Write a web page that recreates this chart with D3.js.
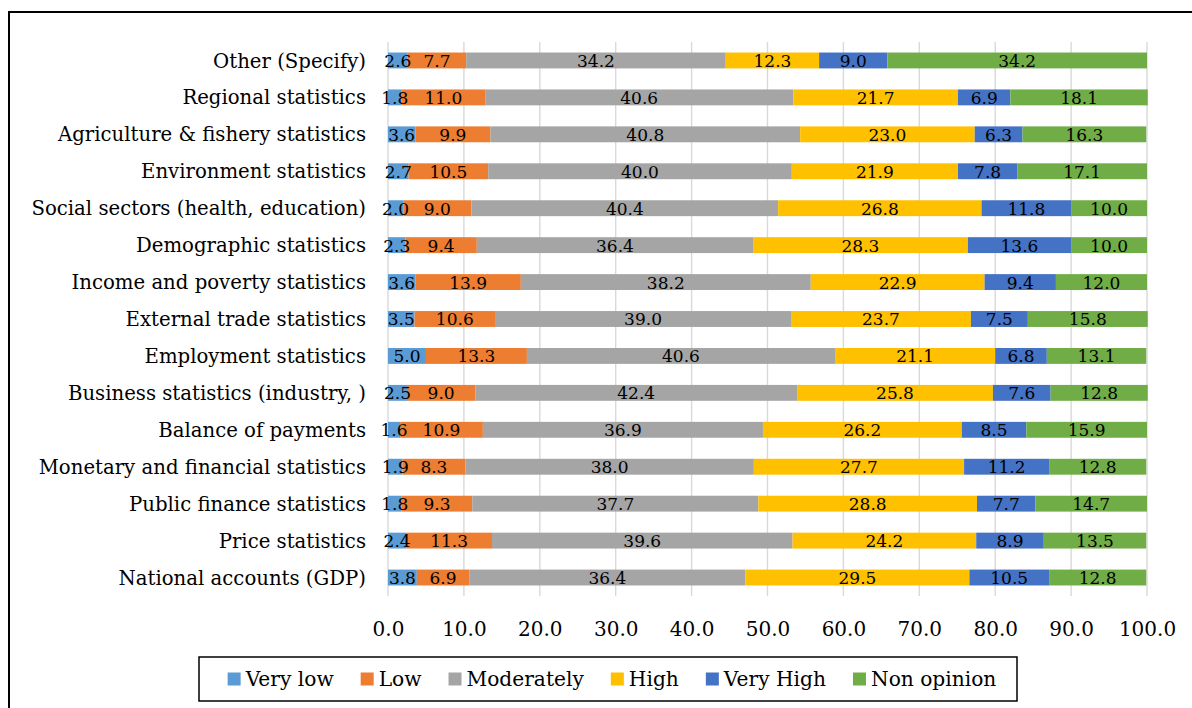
<!DOCTYPE html>
<html>
<head>
<meta charset="utf-8">
<script src="https://cdn.jsdelivr.net/npm/d3@7"></script>
<style>
  html, body { margin: 0; padding: 0; background: #fff; }
  svg { display: block; }
  text { font-family: "DejaVu Serif", "Liberation Serif", serif; fill: #000; }
</style>
</head>
<body>
<svg id="chart" width="1192" height="708"></svg>
<script>
// Categories, top to bottom
const categories = [
  "Other (Specify)",
  "Regional statistics",
  "Agriculture & fishery statistics",
  "Environment statistics",
  "Social sectors (health, education)",
  "Demographic statistics",
  "Income and poverty statistics",
  "External trade statistics",
  "Employment statistics",
  "Business statistics (industry, )",
  "Balance of payments",
  "Monetary and financial statistics",
  "Public finance statistics",
  "Price statistics",
  "National accounts (GDP)"
];

const seriesNames = ["Very low", "Low", "Moderately", "High", "Very High", "Non opinion"];
const seriesColors = ["#5B9BD5", "#ED7D31", "#A5A5A5", "#FFC000", "#4472C4", "#70AD47"];

// Percentages per series, same order as categories
const veryLow    = [2.6, 1.8, 3.6, 2.7, 2.0, 2.3, 3.6, 3.5, 5.0, 2.5, 1.6, 1.9, 1.8, 2.4, 3.8];
const low        = [7.7, 11.0, 9.9, 10.5, 9.0, 9.4, 13.9, 10.6, 13.3, 9.0, 10.9, 8.3, 9.3, 11.3, 6.9];
const moderately = [34.2, 40.6, 40.8, 40.0, 40.4, 36.4, 38.2, 39.0, 40.6, 42.4, 36.9, 38.0, 37.7, 39.6, 36.4];
const high       = [12.3, 21.7, 23.0, 21.9, 26.8, 28.3, 22.9, 23.7, 21.1, 25.8, 26.2, 27.7, 28.8, 24.2, 29.5];
const veryHigh   = [9.0, 6.9, 6.3, 7.8, 11.8, 13.6, 9.4, 7.5, 6.8, 7.6, 8.5, 11.2, 7.7, 8.9, 10.5];
const nonOpinion = [34.2, 18.1, 16.3, 17.1, 10.0, 10.0, 12.0, 15.8, 13.1, 12.8, 15.9, 12.8, 14.7, 13.5, 12.8];

const xTicks = [0, 10, 20, 30, 40, 50, 60, 70, 80, 90, 100];

const seriesValues = [veryLow, low, moderately, high, veryHigh, nonOpinion];

// Build a row-per-category table for d3.stack
const table = categories.map((c, i) => {
  const row = { category: c };
  seriesNames.forEach((s, j) => { row[s] = seriesValues[j][i]; });
  return row;
});

const svg = d3.select("#chart");

// Chart frame
svg.append("rect")
  .attr("x", 9).attr("y", 12)
  .attr("width", 1200).attr("height", 720)
  .attr("fill", "none")
  .attr("stroke", "#000")
  .attr("stroke-width", 2);

const plot = { left: 388, right: 1147, top: 42, bottom: 596 };

const x = d3.scaleLinear().domain([0, 100]).range([plot.left, plot.right]);
const y = d3.scaleBand()
  .domain(categories)
  .range([plot.top, plot.bottom])
  .paddingInner(0.57)
  .paddingOuter(0.285);

// Vertical gridlines
svg.append("g")
  .selectAll("line")
  .data(xTicks)
  .join("line")
  .attr("x1", d => x(d)).attr("x2", d => x(d))
  .attr("y1", plot.top).attr("y2", plot.bottom)
  .attr("stroke", "#D9D9D9")
  .attr("stroke-width", 1.4);

// Stacked bars
const stack = d3.stack().keys(seriesNames);
const layers = stack(table);

const layerG = svg.append("g")
  .selectAll("g")
  .data(layers)
  .join("g")
  .attr("fill", (d, i) => seriesColors[i]);

layerG.selectAll("rect")
  .data(d => d)
  .join("rect")
  .attr("x", d => x(d[0]))
  .attr("width", d => x(d[1]) - x(d[0]))
  .attr("y", d => y(d.data.category))
  .attr("height", y.bandwidth());

// Value labels
const labelG = svg.append("g");
layers.forEach(layer => {
  labelG.append("g")
    .selectAll("text")
    .data(layer)
    .join("text")
    .attr("x", d => (x(d[0]) + x(d[1])) / 2)
    .attr("y", d => y(d.data.category) + y.bandwidth() / 2)
    .attr("dy", "0.38em")
    .attr("text-anchor", "middle")
    .style("font-size", "17px")
    .text(d => d3.format(".1f")(d[1] - d[0]));
});

// Category axis
const yAxis = svg.append("g")
  .attr("transform", `translate(${plot.left},0)`)
  .call(d3.axisLeft(y).tickSize(0).tickPadding(22));
yAxis.select(".domain").remove();
yAxis.selectAll("text")
  .attr("dy", "0.36em")
  .style("font-size", "19.7px")
  .style("font-family", "DejaVu Serif, serif")
  .attr("fill", "#000");

// Value axis
const xAxis = svg.append("g")
  .attr("transform", `translate(0,${plot.bottom})`)
  .call(d3.axisBottom(x).tickValues(xTicks).tickFormat(d3.format(".1f")).tickSize(0).tickPadding(26));
xAxis.select(".domain").remove();
xAxis.selectAll("text")
  .style("font-size", "20px")
  .style("font-family", "DejaVu Serif, serif")
  .attr("fill", "#000");

// Legend box
const boxLeft = 199, boxRight = 1017, boxTop = 657, boxHeight = 44;
svg.append("rect")
  .attr("x", boxLeft).attr("y", boxTop)
  .attr("width", boxRight - boxLeft).attr("height", boxHeight)
  .attr("fill", "#fff")
  .attr("stroke", "#000")
  .attr("stroke-width", 1.5);

// Legend entries
const legend = svg.append("g");
const sw = 13, gapText = 5, gapItem = 27;
const legendCenterY = boxTop + boxHeight / 2;
let cursor = 0;
seriesNames.forEach((name, i) => {
  const g = legend.append("g");
  g.append("rect")
    .attr("x", 0).attr("y", -sw / 2)
    .attr("width", sw).attr("height", sw)
    .attr("fill", seriesColors[i]);
  const t = g.append("text")
    .attr("x", sw + gapText)
    .attr("dy", "0.36em")
    .style("font-size", "20.2px")
    .text(name);
  const w = sw + gapText + t.node().getComputedTextLength();
  g.attr("transform", `translate(${cursor},${legendCenterY})`);
  cursor += w + gapItem;
});
const legendWidth = cursor - gapItem;
legend.attr("transform", `translate(${(boxLeft + boxRight) / 2 - legendWidth / 2 + 4},0)`);
</script>
</body>
</html>
